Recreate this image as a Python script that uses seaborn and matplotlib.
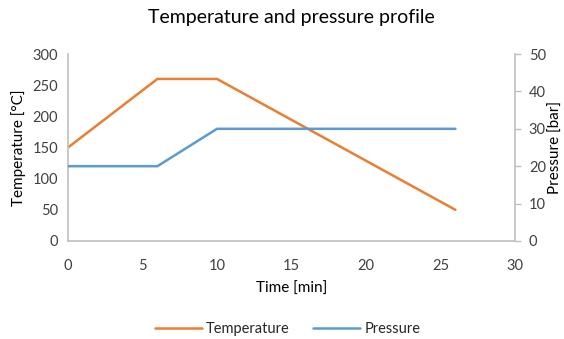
import matplotlib
matplotlib.use("Agg")
import matplotlib.pyplot as plt
import seaborn as sns
import pandas as pd

time_temp = [0, 6, 10, 26]
temperature = [150, 260, 260, 50]
time_pres = [0, 6, 10, 26]
pressure = [20, 20, 30, 30]

sns.set_theme(style="white")
plt.rcParams['font.family'] = ['Lato', 'DejaVu Sans']

fig = plt.figure(figsize=(5.64, 3.39), dpi=100)
ax = fig.add_axes([68/564, 1-241/339, (515-68)/564, (241-54)/339])
ax2 = ax.twinx()

orange = "#ED7D31"
blue = "#5B9BD5"
grey = "#BFBFBF"
tc = "#404040"

df_t = pd.DataFrame({"t": time_temp, "v": temperature})
df_p = pd.DataFrame({"t": time_pres, "v": pressure})
sns.lineplot(data=df_t, x="t", y="v", ax=ax, color=orange, lw=1.8, label="Temperature", legend=False)
sns.lineplot(data=df_p, x="t", y="v", ax=ax2, color=blue, lw=1.8, label="Pressure", legend=False)

ax.set_xlim(0, 30)
ax.set_ylim(0, 300)
ax2.set_ylim(0, 50)
ax.set_xticks(range(0, 31, 5))
ax.set_yticks(range(0, 301, 50))
ax2.set_yticks(range(0, 51, 10))

for a in (ax, ax2):
    for s in a.spines.values():
        s.set_visible(False)
ax.spines['left'].set_visible(True)
ax.spines['bottom'].set_visible(True)
ax2.spines['right'].set_visible(True)
for s in (ax.spines['left'], ax.spines['bottom'], ax2.spines['right']):
    s.set_color(grey)
    s.set_linewidth(1.2)

ax.tick_params(axis='x', length=0, labelsize=10.5, colors=tc, pad=13)
ax.tick_params(axis='y', length=0, labelsize=10.5, colors=tc, pad=7)
ax2.tick_params(axis='y', length=4, width=1, color=grey, labelsize=10.5, labelcolor=tc, pad=6)

ax.set_xlabel("Time [min]", fontsize=11, color="black", labelpad=6)
ax.set_ylabel("Temperature [°C]", fontsize=11, color="black", labelpad=5)
ax2.set_ylabel("Pressure [bar]", fontsize=11, color="black", labelpad=2)
ax.set_title("Temperature and pressure profile", fontsize=14, color="black", pad=22)

h1, l1 = ax.get_legend_handles_labels()
h2, l2 = ax2.get_legend_handles_labels()
fig.legend(h1 + h2, l1 + l2, loc="center", bbox_to_anchor=(0.51, 1-329/339), ncol=2,
           frameon=False, fontsize=10.5, handlelength=3.2, columnspacing=1.6, handletextpad=0.3)

fig.savefig("out.png", dpi=100)
